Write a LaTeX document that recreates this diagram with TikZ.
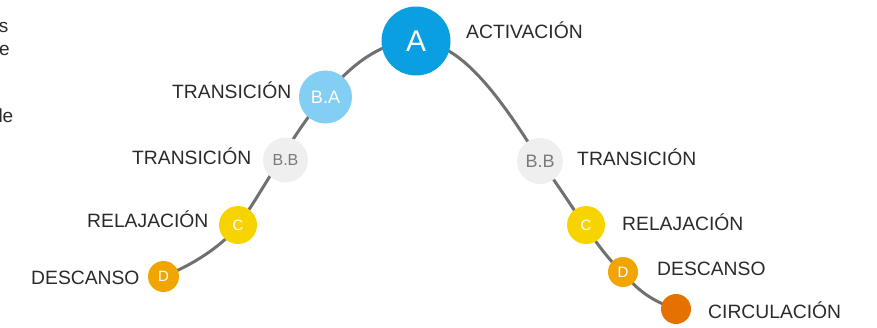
\documentclass[tikz,border=0pt]{standalone}
\usepackage{fontspec}
\setmainfont{Liberation Sans}
\definecolor{lineg}{HTML}{707070}
\definecolor{txt}{HTML}{2A2A2A}
\definecolor{cA}{HTML}{0A9FE0}
\definecolor{cBA}{HTML}{82CFF3}
\definecolor{cBB}{HTML}{EFEFEF}
\definecolor{tBB}{HTML}{7A7A7A}
\definecolor{cC}{HTML}{F7D400}
\definecolor{cD}{HTML}{F0A500}
\definecolor{cE}{HTML}{E57100}
\begin{document}
\begin{tikzpicture}[x=1pt,y=-1pt,
  dot/.style={circle,inner sep=0pt,text=white},
  lbl/.style={anchor=base west,inner sep=0pt,text=txt,font=\fontsize{19.3}{19}\selectfont},
  frag/.style={anchor=base east,inner sep=0pt,text=txt,font=\fontsize{19}{19}\selectfont}]
\useasboundingbox (0,0) rectangle (877,327);
% fragments at left edge
\node[frag] (f1) at (8.5,32) {s};
\node[frag] (f2) at (10,55) {e};
\node[frag] (f3) at (13.5,122) {le};
% coordinates of nodes
\coordinate (pD1) at (163.5,276.5);
\coordinate (pC1) at (238,225);
\coordinate (pBB1) at (285.5,160);
\coordinate (pBA) at (325.5,97);
\coordinate (pA) at (416,41);
\coordinate (pBB2) at (540,161);
\coordinate (pC2) at (586,225);
\coordinate (pD2) at (623,272);
\coordinate (pE) at (676,309);
% curve
\draw[lineg,line width=3pt] (pD1) .. controls (200,262) and (228,240) .. (pC1)
  .. controls (255,205) and (300,120) .. (pBA)
  .. controls (345,70) and (380,40) .. (pA)
  .. controls (455,42) and (490,80) .. (pBB2)
  .. controls (570,200) and (600,255) .. (pD2)
  .. controls (638,292) and (655,302) .. (pE);
% circles
\node[dot,fill=cA,minimum size=69pt,font=\fontsize{30}{30}\selectfont] (A) at (pA) {A};
\node[dot,fill=cBA,minimum size=53pt,font=\fontsize{18}{18}\selectfont] (BA) at (pBA) {B.A};
\node[dot,fill=cBB,text=tBB,minimum size=45pt,font=\fontsize{16}{16}\selectfont] (BB1) at (pBB1) {B.B};
\node[dot,fill=cC,minimum size=38pt,font=\fontsize{15}{15}\selectfont] (C1) at (pC1) {C};
\node[dot,fill=cD,minimum size=31pt,font=\fontsize{15}{15}\selectfont] (D1) at (pD1) {D};
\node[dot,fill=cBB,text=tBB,minimum size=46pt,font=\fontsize{18}{18}\selectfont] (BB2) at (pBB2) {B.B};
\node[dot,fill=cC,minimum size=38pt,font=\fontsize{15}{15}\selectfont] (C2) at (pC2) {C};
\node[dot,fill=cD,minimum size=30pt,font=\fontsize{15}{15}\selectfont] (D2) at (pD2) {D};
\node[dot,fill=cE,minimum size=30pt] (E) at (pE) {};
% labels
\node[lbl] (lA) at (466,38) {ACTIVACIÓN};
\node[lbl] (lBA) at (172,98) {TRANSICIÓN};
\node[lbl] (lBB1) at (132,164) {TRANSICIÓN};
\node[lbl] (lC1) at (87,227) {RELAJACIÓN};
\node[lbl] (lD1) at (31,284) {DESCANSO};
\node[lbl] (lBB2) at (577,165) {TRANSICIÓN};
\node[lbl] (lC2) at (622,230) {RELAJACIÓN};
\node[lbl] (lD2) at (657,275) {DESCANSO};
\node[lbl] (lE) at (708,318) {CIRCULACIÓN};
\end{tikzpicture}
\end{document}
